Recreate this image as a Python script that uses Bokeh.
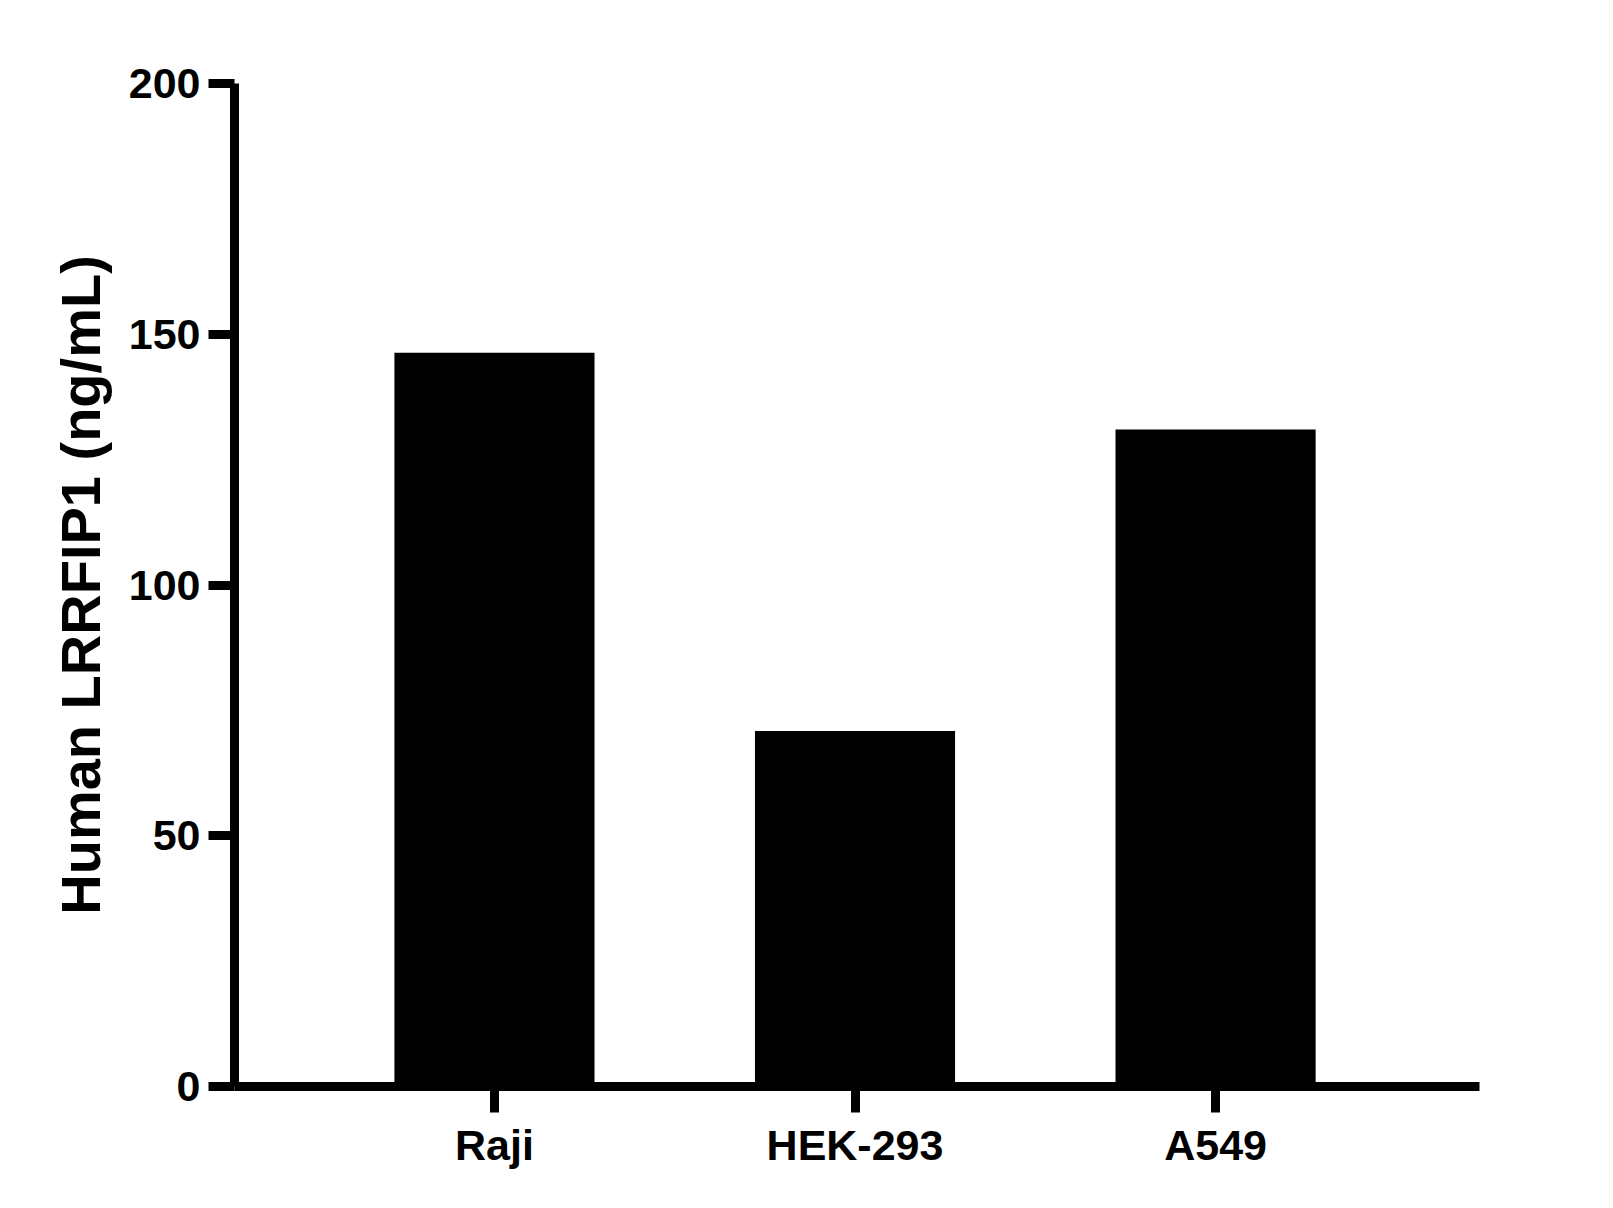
from bokeh.plotting import figure
from bokeh.models import Range1d, FixedTicker
from bokeh.embed import file_html
from bokeh.resources import INLINE

# Data
categories = ["Raji", "HEK-293", "A549"]
values = [146.3, 70.9, 131.0]
y_ticks = [0, 50, 100, 150, 200]
y_label = "Human LRRFIP1 (ng/mL)"

positions = [i + 1 for i in range(len(categories))]

FONT = "Liberation Sans"

p = figure(
    output_backend="svg",
    toolbar_location=None,
    frame_width=1245,
    frame_height=1003,
    min_border_left=234,
    min_border_top=83,
    min_border_right=100,
    min_border_bottom=105,
    x_range=Range1d(0.279, 3.732),
    y_range=Range1d(0, 200),
    background_fill_color="white",
    border_fill_color="white",
)
p.outline_line_color = None
p.grid.visible = False

p.vbar(x=positions, top=values, bottom=0, width=0.555,
       fill_color="black", line_color=None)

for ax in (p.xaxis[0], p.yaxis[0]):
    ax.axis_line_width = 9
    ax.axis_line_color = "black"
    ax.major_tick_line_width = 9
    ax.major_tick_line_color = "black"
    ax.major_tick_in = 0
    ax.major_tick_out = 26
    ax.minor_tick_line_color = None
    ax.major_label_text_font = FONT
    ax.major_label_text_font_style = "bold"
    ax.major_label_text_font_size = "43px"
    ax.major_label_text_color = "black"
    ax.major_label_standoff = 8

p.xaxis.ticker = FixedTicker(ticks=positions)
p.xaxis.major_label_overrides = {pos: name for pos, name in zip(positions, categories)}
p.yaxis.ticker = FixedTicker(ticks=y_ticks)

p.yaxis.axis_label = y_label
p.yaxis.axis_label_text_font = FONT
p.yaxis.axis_label_text_font_style = "bold"
p.yaxis.axis_label_text_font_size = "56px"
p.yaxis.axis_label_text_color = "black"
p.yaxis.axis_label_standoff = 14

open("out.html", "w").write(file_html(p, INLINE))
